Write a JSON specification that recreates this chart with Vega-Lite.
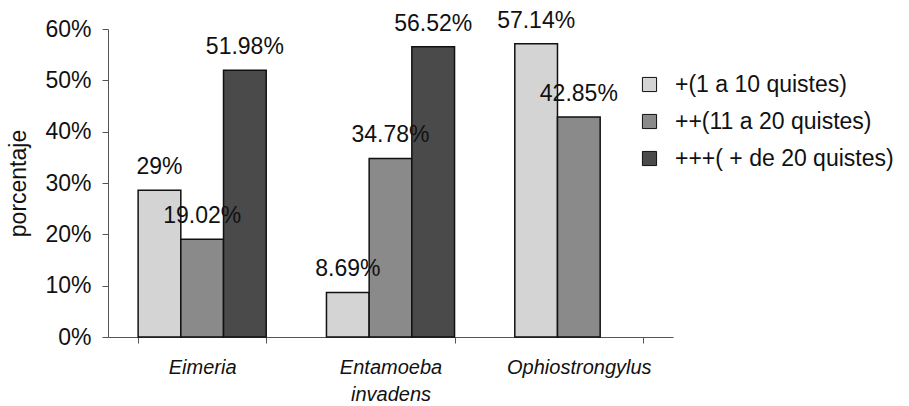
{
  "$schema": "https://vega.github.io/schema/vega-lite/v6.json",
  "autosize": {"type": "none"},
  "width": 565,
  "height": 308,
  "padding": {"left": 108, "top": 29, "right": 236, "bottom": 69},
  "background": "white",
  "config": {
    "view": {"stroke": null},
    "font": "Liberation Sans",
    "text": {"font": "Liberation Sans"}
  },
  "data": {
    "values": [
      {"parasito": "Eimeria", "carga": "+(1 a 10 quistes)", "valor": 0.2857, "etiqueta": "29%"},
      {"parasito": "Eimeria", "carga": "++(11 a 20 quistes)", "valor": 0.1902, "etiqueta": "19.02%"},
      {"parasito": "Eimeria", "carga": "+++( + de 20 quistes)", "valor": 0.5198, "etiqueta": "51.98%"},
      {"parasito": "Entamoeba invadens", "carga": "+(1 a 10 quistes)", "valor": 0.0869, "etiqueta": "8.69%"},
      {"parasito": "Entamoeba invadens", "carga": "++(11 a 20 quistes)", "valor": 0.3478, "etiqueta": "34.78%"},
      {"parasito": "Entamoeba invadens", "carga": "+++( + de 20 quistes)", "valor": 0.5652, "etiqueta": "56.52%"},
      {"parasito": "Ophiostrongylus", "carga": "+(1 a 10 quistes)", "valor": 0.5714, "etiqueta": "57.14%"},
      {"parasito": "Ophiostrongylus", "carga": "++(11 a 20 quistes)", "valor": 0.4285, "etiqueta": "42.85%"}
    ]
  },
  "encoding": {
    "x": {
      "field": "parasito",
      "type": "nominal",
      "sort": ["Eimeria", "Entamoeba invadens", "Ophiostrongylus"],
      "scale": {"paddingInner": 0.32, "paddingOuter": 0.16},
      "axis": {
        "title": null,
        "labelAngle": 0,
        "tickBand": "extent",
        "domainColor": "#555555",
        "tickColor": "#555555",
        "tickSize": 6,
        "labelFontSize": 20,
        "labelFontStyle": "italic",
        "labelColor": "#111111",
        "labelPadding": 14,
        "labelLineHeight": 27,
        "labelExpr": "datum.value == 'Entamoeba invadens' ? ['Entamoeba', 'invadens'] : datum.value"
      }
    },
    "xOffset": {
      "field": "carga",
      "type": "nominal",
      "sort": ["+(1 a 10 quistes)", "++(11 a 20 quistes)", "+++( + de 20 quistes)"],
      "scale": {"domain": ["+(1 a 10 quistes)", "++(11 a 20 quistes)", "+++( + de 20 quistes)"], "paddingInner": 0, "paddingOuter": 0}
    },
    "y": {
      "field": "valor",
      "type": "quantitative",
      "scale": {"domain": [0, 0.6], "nice": false},
      "axis": {
        "title": "porcentaje",
        "titleFontSize": 23,
        "titleFontWeight": "normal",
        "titleColor": "#111111",
        "titlePadding": 14,
        "format": ".0%",
        "values": [0, 0.1, 0.2, 0.3, 0.4, 0.5, 0.6],
        "grid": false,
        "domainColor": "#555555",
        "tickColor": "#555555",
        "tickSize": 6,
        "labelFontSize": 23,
        "labelColor": "#111111",
        "labelPadding": 11
      }
    }
  },
  "layer": [
    {
      "mark": {"type": "bar", "stroke": "#111111", "strokeWidth": 1.5},
      "encoding": {
        "fill": {
          "field": "carga",
          "type": "nominal",
          "scale": {
            "domain": ["+(1 a 10 quistes)", "++(11 a 20 quistes)", "+++( + de 20 quistes)"],
            "range": ["#d4d4d4", "#8a8a8a", "#4a4a4a"]
          },
          "legend": {
            "title": null,
            "orient": "none",
            "legendX": 530,
            "legendY": 44,
            "symbolType": "square",
            "symbolSize": 200,
            "symbolStrokeColor": "#111111",
            "symbolStrokeWidth": 1,
            "labelFontSize": 23,
            "labelColor": "#111111",
            "labelOffset": 14,
            "rowPadding": 13,
            "labelLimit": 400
          }
        }
      }
    },
    {
      "mark": {"type": "text", "baseline": "alphabetic", "dy": -16, "fontSize": 23, "color": "#111111"},
      "encoding": {"text": {"field": "etiqueta"}}
    }
  ]
}
